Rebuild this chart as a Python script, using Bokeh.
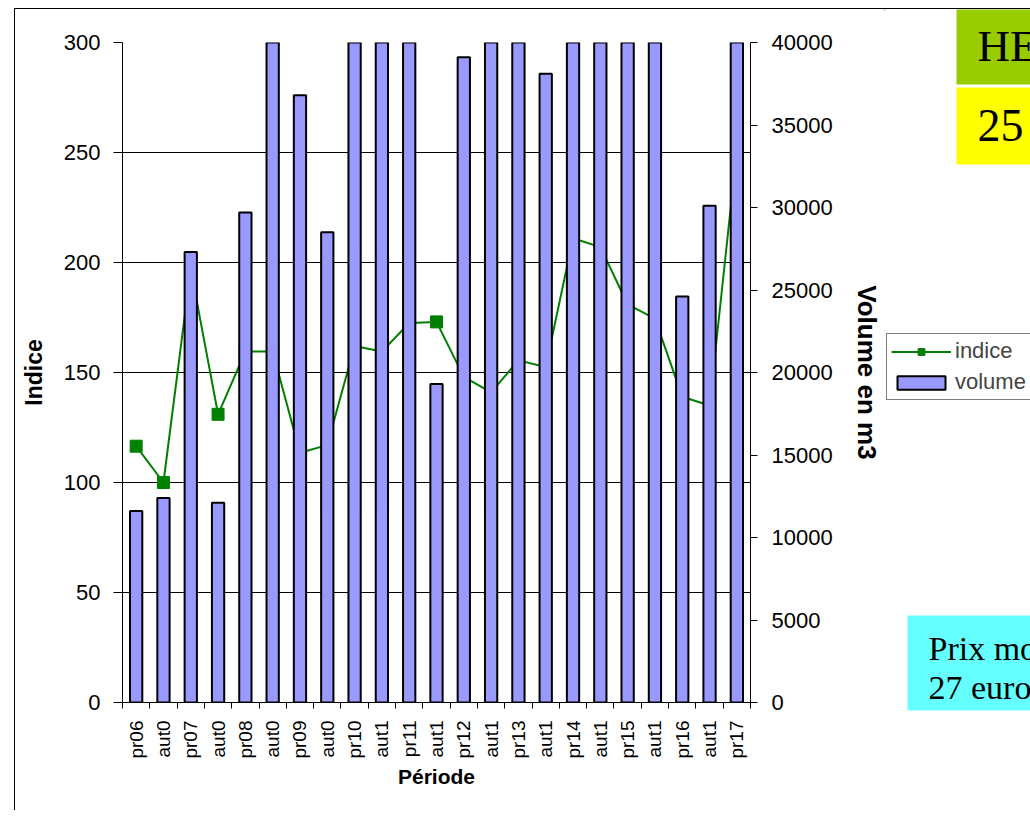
from math import pi
from bokeh.plotting import figure
from bokeh.layouts import row, column
from bokeh.models import (LinearAxis, Range1d, FixedTicker, Label,
                          Legend, LegendItem, ColumnDataSource)
from bokeh.embed import file_html
from bokeh.resources import INLINE

# ---------------- data ----------------
periods = ["pr06", "aut0", "pr07", "aut0", "pr08", "aut0", "pr09", "aut0",
           "pr10", "aut1", "pr11", "aut1", "pr12", "aut1", "pr13", "aut1",
           "pr14", "aut1", "pr15", "aut1", "pr16", "aut1", "pr17"]
indice = [116.5, 100, 197, 131, 159.5, 159.5, 113.5, 117, 162, 159.5, 172.5, 173,
          148, 141, 155.5, 152.5, 211, 207, 181, 174.5, 139, 135, 251]
volume = [11600, 12400, 27300, 12100, 29700, 40000, 36800, 28500, 43000, 42000,
          44000, 19300, 39100, 42000, 43000, 38100, 40100, 42000, 45000, 41000,
          24600, 30100, 43000]
indice_ticks = [0, 50, 100, 150, 200, 250, 300]
volume_ticks = [0, 5000, 10000, 15000, 20000, 25000, 30000, 35000, 40000]
box_texts = ["HETRE", "25", "Prix moyen", "27 euros"]

SANS = "Liberation Sans"
SERIF = "Liberation Serif"
GREEN = "#008000"
BAR = "#9999FF"

xs = list(range(len(periods)))
src = ColumnDataSource(dict(x=xs, indice=indice, volume=volume))

# ---------------- main chart ----------------
p = figure(width=869, height=801, output_backend="svg", toolbar_location=None,
           x_range=Range1d(-0.5, len(periods) - 0.5), y_range=Range1d(0, 300),
           min_border_left=107, min_border_right=134, min_border_top=33,
           min_border_bottom=108, outline_line_color=None,
           background_fill_color="white", border_fill_color="white")
p.extra_y_ranges = {"vol": Range1d(0, 40000)}

p.xgrid.visible = False
p.ygrid.ticker = FixedTicker(ticks=indice_ticks)
p.ygrid.grid_line_color = "black"
p.ygrid.grid_line_width = 1

line_r = p.line("x", "indice", source=src, line_color=GREEN, line_width=2)
mark_r = p.scatter("x", "indice", source=src, marker="square", size=12,
                   fill_color=GREEN, line_color=GREEN)
bar_r = p.vbar(x="x", top="volume", width=0.45, source=src, y_range_name="vol",
               fill_color=BAR, line_color="black", line_width=2)

# x axis
xa = p.xaxis[0]
xa.ticker = FixedTicker(ticks=xs, minor_ticks=[i - 0.5 for i in range(len(periods) + 1)])
xa.major_label_overrides = {i: lab for i, lab in enumerate(periods)}
xa.major_label_orientation = pi / 2
xa.major_tick_line_color = None
xa.minor_tick_in = 0
xa.minor_tick_out = 6
xa.minor_tick_line_color = "black"
xa.axis_line_color = "black"
xa.major_label_text_font = SANS
xa.major_label_text_font_size = "19px"
xa.major_label_text_color = "black"
xa.major_label_standoff = 12
xa.axis_label = "Période"
xa.axis_label_text_font = SANS
xa.axis_label_text_font_size = "21px"
xa.axis_label_text_font_style = "bold"
xa.axis_label_text_color = "black"
xa.axis_label_standoff = 3

# left axis
ya = p.yaxis[0]
ya.ticker = FixedTicker(ticks=indice_ticks)
ya.major_tick_in = 0
ya.major_tick_out = 9
ya.minor_tick_line_color = None
ya.axis_line_color = "black"
ya.major_tick_line_color = "black"
ya.major_label_text_font = SANS
ya.major_label_text_font_size = "22px"
ya.major_label_text_color = "black"
ya.major_label_standoff = 13
ya.axis_label = "Indice"
ya.axis_label_text_font = SANS
ya.axis_label_text_font_size = "23px"
ya.axis_label_text_font_style = "bold"
ya.axis_label_text_color = "black"
ya.axis_label_standoff = 14

# right axis
ra = LinearAxis(y_range_name="vol", ticker=FixedTicker(ticks=volume_ticks))
ra.major_tick_in = 0
ra.major_tick_out = 7
ra.minor_tick_line_color = None
ra.axis_line_color = "black"
ra.major_tick_line_color = "black"
ra.major_label_text_font = SANS
ra.major_label_text_font_size = "22px"
ra.major_label_text_color = "black"
ra.major_label_standoff = 14
ra.axis_label = "Volume en m3"
ra.axis_label_text_font = SANS
ra.axis_label_text_font_size = "26px"
ra.axis_label_text_font_style = "bold"
ra.axis_label_text_color = "black"
ra.axis_label_standoff = 16
p.add_layout(ra, "right")

# ---------------- side panel: legend + slide text boxes ----------------
s = figure(width=146, height=801, output_backend="svg", toolbar_location=None,
           x_range=Range1d(884, 1030), y_range=Range1d(810, 9),
           x_axis_location=None, y_axis_location=None,
           min_border=0, min_border_left=0, min_border_right=0,
           min_border_top=0, min_border_bottom=0, outline_line_color=None,
           background_fill_color="white", border_fill_color="white")
s.grid.visible = False

# legend proxies: same styles as the chart series, placed off-screen
proxy = ColumnDataSource(dict(x=[-1000], y=[-1000], top=[-1000]))
lg_line = s.line("x", "y", source=proxy, line_color=GREEN, line_width=2)
lg_mark = s.scatter("x", "y", source=proxy, marker="square", size=12,
                    fill_color=GREEN, line_color=GREEN)
lg_bar = s.vbar(x="x", top="top", width=1, source=proxy,
                fill_color=BAR, line_color="black", line_width=2)
legend = Legend(items=[LegendItem(label="indice", renderers=[lg_line, lg_mark]),
                       LegendItem(label="volume", renderers=[lg_bar])],
                location=(2, 410), border_line_color="black", border_line_width=1,
                background_fill_color="white", background_fill_alpha=1,
                label_text_font=SANS, label_text_font_size="22px",
                glyph_width=60, glyph_height=17, padding=4, spacing=5,
                label_standoff=4, margin=0)
s.add_layout(legend, "center")

s.quad(left=[956], right=[1030], top=[7], bottom=[84], fill_color="#99CC00", line_color=None)
s.quad(left=[956], right=[1030], top=[87], bottom=[164], fill_color="#FFFF00", line_color=None)
s.quad(left=[907], right=[1030], top=[615], bottom=[710], fill_color="#66FFFF", line_color=None)

def tlabel(x, y, txt, size):
    s.add_layout(Label(x=x, y=y, text=txt, text_font=SERIF, text_font_size=f"{size}px",
                       text_color="black", text_baseline="alphabetic"))

tlabel(977, 45, box_texts[0], 45)
tlabel(977, 125, box_texts[1], 46)
tlabel(928, 648, box_texts[2], 34)
tlabel(928, 687, box_texts[3], 34)

layout = row(p, column(s, spacing=0), spacing=0)
layout.styles = {"margin-left": "14px", "margin-top": "8px",
                 "border-left": "1px solid black", "border-top": "1px solid black"}

open("out.html", "w").write(file_html(layout, INLINE))
